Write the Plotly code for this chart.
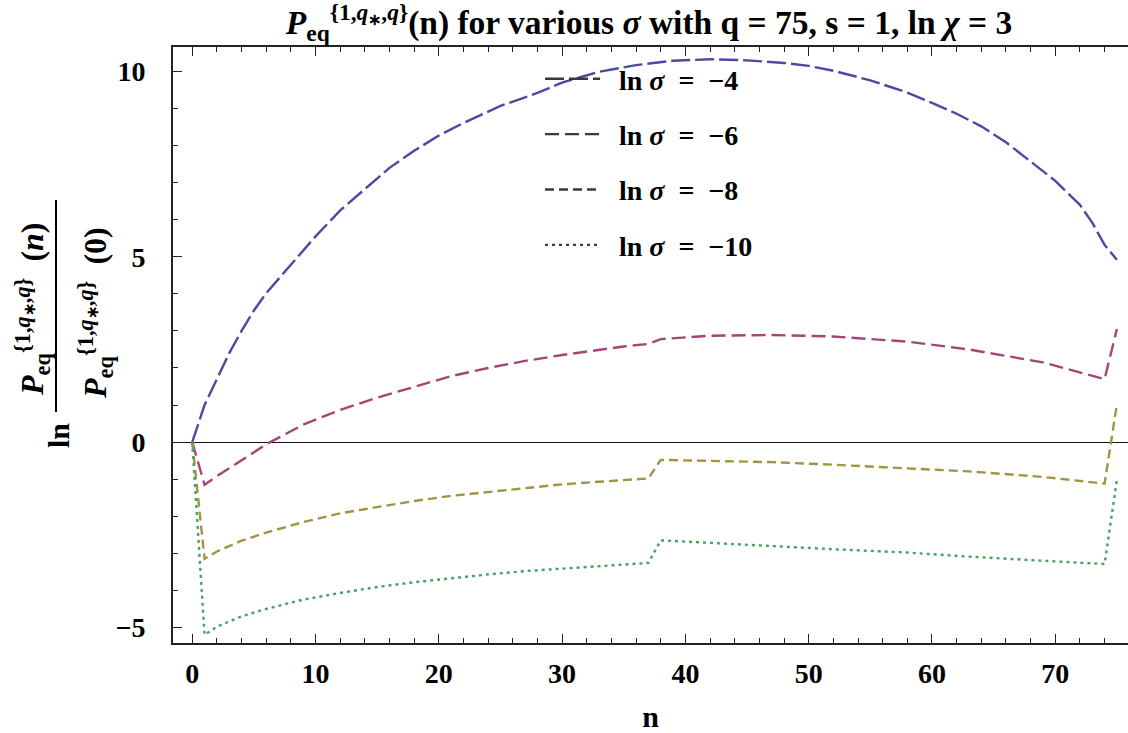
import plotly.graph_objects as go

# ---------------- data ----------------
blue_n = [0, 1, 2, 3, 4, 5, 6, 8, 10, 12, 14, 16, 18, 20, 22, 25, 28, 30, 33, 36, 39,
          42, 45, 48, 50, 52, 55, 58, 60, 62, 64, 66, 68, 70, 72, 73, 74, 75]
blue_y = [0, 1.0, 1.7, 2.4, 3.0, 3.55, 4.02, 4.8, 5.55, 6.25, 6.83, 7.4, 7.86, 8.27,
          8.61, 9.07, 9.42, 9.7, 9.99, 10.17, 10.29, 10.33, 10.3, 10.23, 10.15, 10.02,
          9.76, 9.43, 9.15, 8.86, 8.52, 8.09, 7.57, 7.05, 6.4, 5.92, 5.32, 4.92]

low_n = [0, 1, 2, 4, 6, 9, 12, 15, 18, 21, 24, 27, 30, 33, 35, 37, 38, 42, 47, 52,
         58, 63, 69, 74, 75]
pink_y = [0, -1.15, -0.92, -0.48, -0.06, 0.47, 0.87, 1.2, 1.5, 1.78, 2.0, 2.19, 2.35,
          2.5, 2.58, 2.65, 2.78, 2.87, 2.89, 2.85, 2.71, 2.5, 2.15, 1.7, 3.05]
olive_y = [0, -3.15, -2.95, -2.66, -2.44, -2.16, -1.92, -1.75, -1.59, -1.45, -1.34,
           -1.23, -1.14, -1.07, -1.03, -0.98, -0.48, -0.5, -0.54, -0.61, -0.7, -0.79,
           -0.94, -1.12, 1.02]
green_y = [0, -5.2, -4.98, -4.7, -4.5, -4.25, -4.07, -3.91, -3.78, -3.67, -3.57,
           -3.48, -3.41, -3.34, -3.3, -3.26, -2.65, -2.72, -2.8, -2.89, -2.98, -3.09,
           -3.2, -3.29, -1.02]

SP = "\u2002"
legend_labels = [SP + "ln <i>σ</i>" + SP + "=" + SP + "−4",
                 SP + "ln <i>σ</i>" + SP + "=" + SP + "−6",
                 SP + "ln <i>σ</i>" + SP + "=" + SP + "−8",
                 SP + "ln <i>σ</i>" + SP + "=" + SP + "−10"]
x_tick_vals = [0, 10, 20, 30, 40, 50, 60, 70]
y_tick_vals = [-5, 0, 5, 10]
y_tick_text = ["−5", "0", "5", "10"]

# ---------------- styling ----------------
FONT = "Liberation Serif"
colors = ["#4B49A3", "#A4457A", "#A39445", "#45A35E"]
dashes = ["19px,5px", "14px,6px", "9px,5px", "3px,4px"]
LW = 2.4

series = [(blue_n, blue_y), (low_n, pink_y), (low_n, olive_y), (low_n, green_y)]

fig = go.Figure()
for (xs, ys), c, d in zip(series, colors, dashes):
    fig.add_trace(go.Scatter(x=xs, y=ys, mode="lines", showlegend=False,
                             line=dict(color=c, width=LW, dash=d), hoverinfo="skip"))

# legend entries with dark sample lines
for i, (lab, d) in enumerate(zip(legend_labels, dashes)):
    fig.add_trace(go.Scatter(x=[None], y=[None], mode="lines", name=lab,
                             legendgroup=f"g{i}",
                             line=dict(color="#3a3a3a", width=LW, dash=d)))

L, R, T, B = 173, 0, 47, 90
W, H = 1128, 733
pw, ph = W - L - R, H - T - B

def to_px(xp):
    return (xp - L) / pw

def to_py(yp):
    return (H - B - yp) / ph

title = ("<i>P</i><sub>eq</sub><sup>{1,<i>q</i><sub>∗</sub>,<i>q</i>}</sup>(n) for various "
         "<i>σ</i> with q = 75, s = 1, ln <i>χ</i> = 3")

fig.update_layout(
    width=W, height=H,
    margin=dict(l=L, r=R, t=T, b=B),
    paper_bgcolor="white", plot_bgcolor="white",
    font=dict(family=FONT, size=28, color="black", weight="bold"),
    title=dict(text=title, x=649 / W, xref="container", xanchor="center",
               y=1 - 22 / H, yref="container", yanchor="middle",
               font=dict(family=FONT, size=33.5, color="black", weight="bold")),
    legend=dict(x=to_px(540), y=to_py(54), xanchor="left", yanchor="top",
                bgcolor="rgba(0,0,0,0)", traceorder="grouped", tracegroupgap=16,
                itemwidth=55,
                font=dict(family=FONT, size=28, color="black", weight="bold")),
    showlegend=True,
)

fig.update_xaxes(
    range=[-1.56, 75.9], showgrid=False, zeroline=False,
    showline=True, linecolor="#222", linewidth=1.6, mirror="ticks",
    ticks="inside", ticklen=9, tickwidth=1.4, tickcolor="#222",
    tickvals=x_tick_vals, ticklabelstandoff=5,
    tickfont=dict(family=FONT, size=28, color="black", weight="bold"),
    minor=dict(dtick=2, ticks="inside", ticklen=5, tickwidth=1.2, tickcolor="#222"),
    title=dict(text="n", standoff=22,
               font=dict(family=FONT, size=30, color="black", weight="bold")),
)
fig.update_yaxes(
    range=[-5.42, 10.66], showgrid=False,
    zeroline=True, zerolinecolor="#111", zerolinewidth=1.4,
    showline=True, linecolor="#222", linewidth=1.6, mirror=False,
    ticks="inside", ticklen=9, tickwidth=1.4, tickcolor="#222",
    tickvals=y_tick_vals, ticktext=y_tick_text, ticklabelstandoff=20,
    tickfont=dict(family=FONT, size=28, color="black", weight="bold"),
    minor=dict(dtick=1, ticks="inside", ticklen=5, tickwidth=1.2, tickcolor="#222"),
)

# y-axis label: ln ( numerator / denominator )
num = ("<i>P</i><sub>eq</sub><sup>{1,<i>q</i><sub>∗</sub>,<i>q</i>}</sup>"
       + SP + "(<i>n</i>)")
den = ("<i>P</i><sub>eq</sub><sup>{1,<i>q</i><sub>∗</sub>,<i>q</i>}</sup>"
       + SP + "(0)")
lab_font = dict(family=FONT, size=32, color="black", weight="bold")
fig.add_annotation(text=num, textangle=-90, xref="paper", yref="paper",
                   xanchor="center", yanchor="middle",
                   x=to_px(32), y=to_py(309), showarrow=False, font=lab_font)
fig.add_annotation(text=den, textangle=-90, xref="paper", yref="paper",
                   xanchor="center", yanchor="middle",
                   x=to_px(95), y=to_py(313), showarrow=False, font=lab_font)
fig.add_annotation(text="ln", textangle=-90, xref="paper", yref="paper",
                   xanchor="center", yanchor="middle",
                   x=to_px(58), y=to_py(436), showarrow=False,
                   font=dict(family=FONT, size=30, color="black", weight="bold"))
fig.add_shape(type="line", xref="paper", yref="paper", layer="above",
              x0=to_px(56), x1=to_px(56), y0=to_py(412), y1=to_py(200),
              line=dict(color="black", width=2))

fig.write_html("out.html")
